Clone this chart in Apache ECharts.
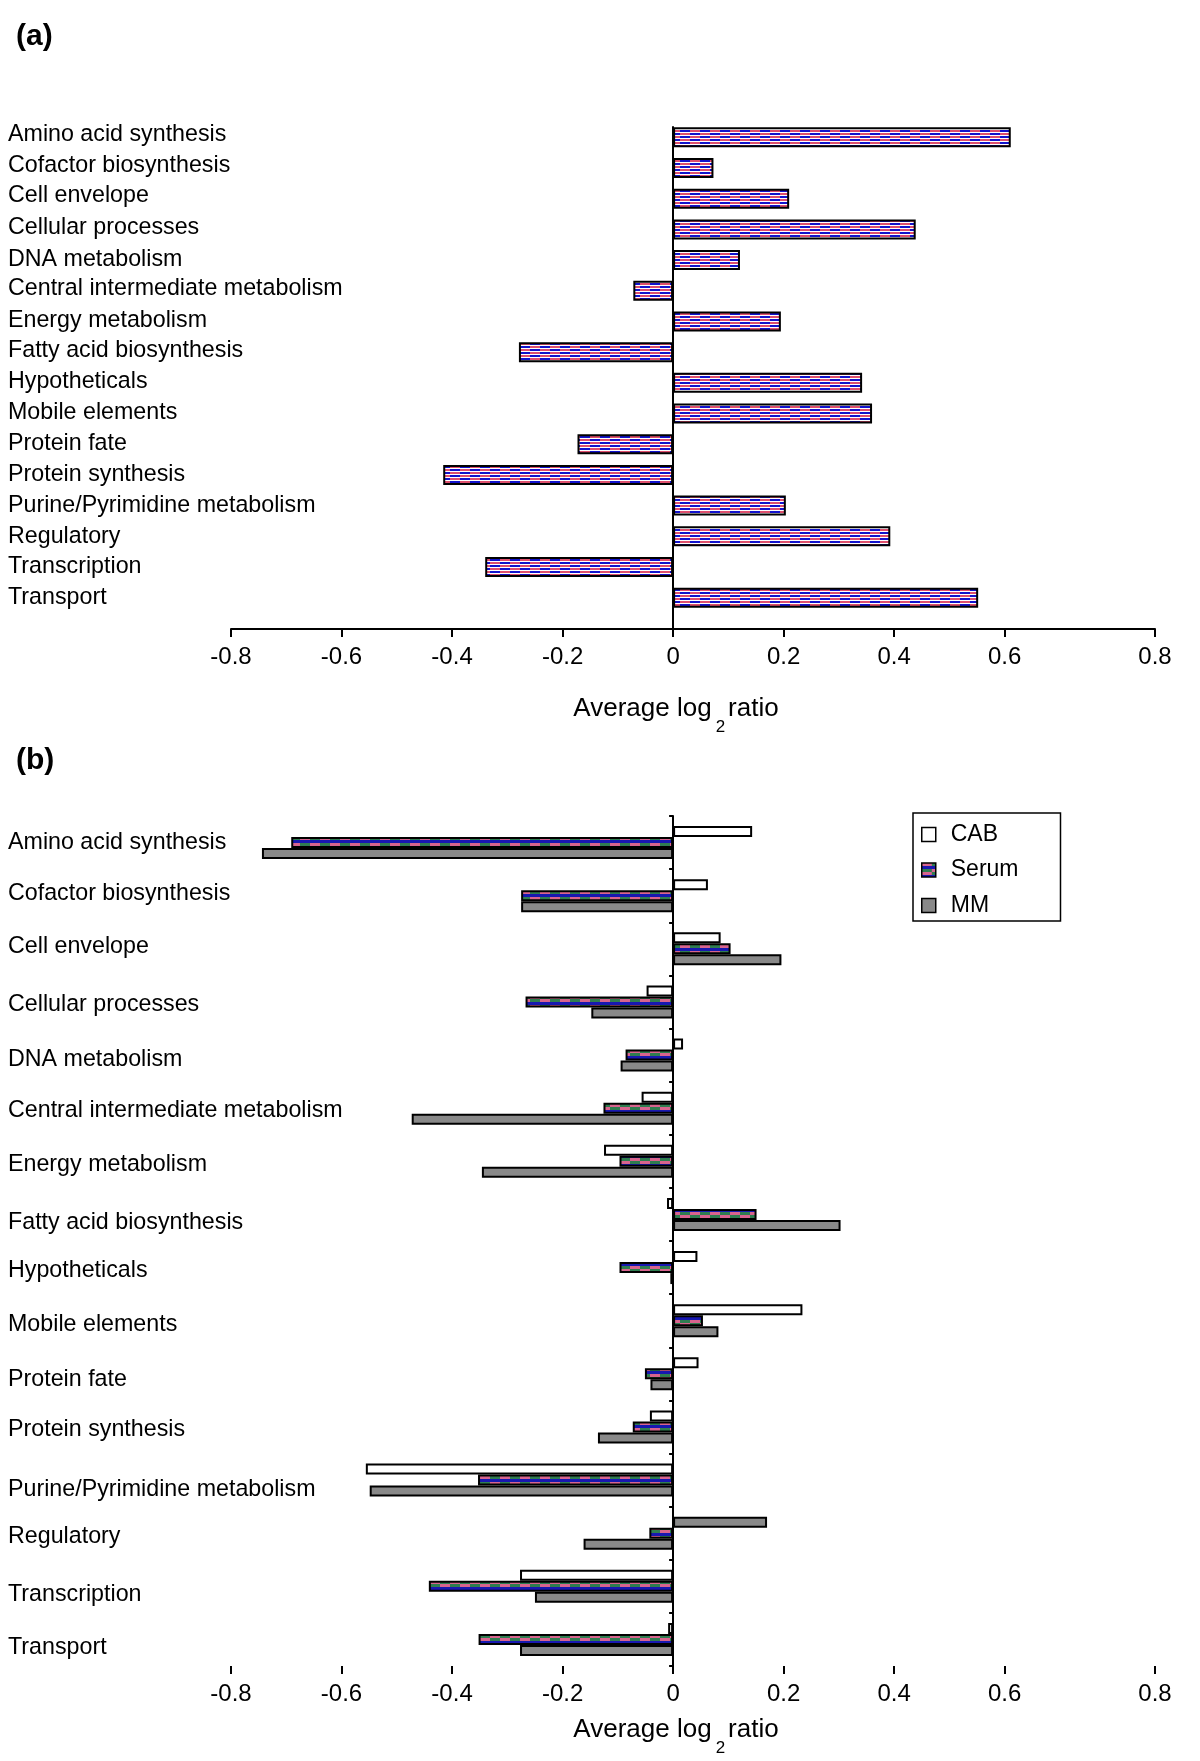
<!DOCTYPE html>
<html>
<head>
<meta charset="utf-8">
<title>Average log2 ratio by functional category</title>
<script src="https://cdn.jsdelivr.net/npm/echarts@6/dist/echarts.min.js"></script>
<style>
  html, body { margin: 0; padding: 0; background: #fff; }
  #chart { width: 1200px; height: 1761px; }
</style>
</head>
<body>
<div id="chart"></div>
<script>
// functional categories (same order in both panels)
const categories = [
  "Amino acid synthesis",
  "Cofactor biosynthesis",
  "Cell envelope",
  "Cellular processes",
  "DNA metabolism",
  "Central intermediate metabolism",
  "Energy metabolism",
  "Fatty acid biosynthesis",
  "Hypotheticals",
  "Mobile elements",
  "Protein fate",
  "Protein synthesis",
  "Purine/Pyrimidine metabolism",
  "Regulatory",
  "Transcription",
  "Transport",
];

// panel (a)
const panelA = [0.611, 0.073, 0.21, 0.439, 0.121, -0.072, 0.195, -0.279, 0.342, 0.36, -0.173, -0.416, 0.204, 0.393, -0.34, 0.552];

// panel (b)
const cab = [0.143, 0.063, 0.086, -0.048, 0.018, -0.057, -0.125, -0.011, 0.044, 0.234, 0.046, -0.042, -0.556, 0.17, -0.277, -0.009];
const serum = [-0.691, -0.275, 0.104, -0.267, -0.086, -0.126, -0.097, 0.151, -0.097, 0.054, -0.051, -0.073, -0.353, -0.043, -0.442, -0.352];
const mm = [-0.744, -0.275, 0.196, -0.148, -0.095, -0.473, -0.346, 0.303, -0.005, 0.082, -0.041, -0.136, -0.549, -0.162, -0.25, -0.277];
// in the original the CAB bar for "Regulatory" is drawn grey
const greyCabIndex = 13;

// x axis ticks (the last tick sits at the end of the axis but reads 0.8)
const tickValues = [-0.8, -0.6, -0.4, -0.2, 0, 0.2, 0.4, 0.6, 0.872];
const tickLabels = ["-0.8", "-0.6", "-0.4", "-0.2", "0", "0.2", "0.4", "0.6", "0.8"];
const xMin = -0.8;
const xMax = 0.872;

// small vertical nudges (px, + = down) of the hand placed category labels
const labelNudgeA = [-3, -2, -3, -2, -1, -2, -1, -2, -1, -1, -1, 0, 0, 0, 0, 0];
const labelNudgeB = [0, -2, -2, 3, 5, 2, 3, 8, 3, 4, 6, 3, 10, 3, 8, 8];

const FONT = "'Liberation Sans', Arial, Helvetica, sans-serif";
const GREY = "#898989";

// fill patterns
function makePatternA() {
  const c = document.createElement("canvas");
  c.width = 20;
  c.height = 6;
  const ctx = c.getContext("2d");
  ctx.fillStyle = "#fff";
  ctx.fillRect(0, 0, 20, 6);
  ctx.fillStyle = "#de4f6d";
  ctx.fillRect(0, 1, 10, 2);
  ctx.fillRect(10, 4, 10, 2);
  ctx.fillStyle = "#1212cc";
  ctx.fillRect(10, 1, 10, 2);
  ctx.fillRect(0, 4, 10, 2);
  return c;
}

function makePatternSerum() {
  const c = document.createElement("canvas");
  c.width = 20;
  c.height = 9;
  const ctx = c.getContext("2d");
  const pink = "#d8648e", green = "#2f7d50", blue = "#1818b0";
  ctx.fillStyle = pink; ctx.fillRect(0, 0, 10, 3);
  ctx.fillStyle = green; ctx.fillRect(10, 0, 10, 3);
  ctx.fillStyle = blue; ctx.fillRect(0, 3, 20, 3);
  ctx.fillStyle = green; ctx.fillRect(0, 6, 10, 3);
  ctx.fillStyle = pink; ctx.fillRect(10, 6, 10, 3);
  return c;
}

const patA = { image: makePatternA(), repeat: "repeat" };
const patSerum = { image: makePatternSerum(), repeat: "repeat" };

function tickFormatter(v) {
  for (let i = 0; i < tickValues.length; i++) {
    if (Math.abs(tickValues[i] - v) < 1e-6) return tickLabels[i];
  }
  return "";
}

function valueAxis(gridIndex, nameGap) {
  return {
    gridIndex: gridIndex,
    type: "value",
    min: xMin,
    max: xMax,
    position: "bottom",
    axisLine: { onZero: false, lineStyle: { color: "#000", width: 2 } },
    axisTick: { show: true, length: 8, customValues: tickValues, lineStyle: { color: "#000", width: 2 } },
    axisLabel: { customValues: tickValues, formatter: tickFormatter, fontSize: 24, color: "#000", margin: 16, fontFamily: FONT },
    splitLine: { show: false },
    name: "{t|Average log}{s|2}{t|ratio}",
    nameLocation: "middle",
    nameGap: nameGap,
    nameTextStyle: {
      padding: [0, 34, 0, 0],
      rich: {
        t: { fontSize: 26, lineHeight: 31, color: "#000", fontFamily: FONT, verticalAlign: "top", padding: [10, 0, 0, 0] },
        s: { fontSize: 17, lineHeight: 17, color: "#000", fontFamily: FONT, verticalAlign: "top", padding: [33, 3, 0, 4] },
      },
    },
  };
}

// one rich style per label, top/bottom padding shifts it up or down
function nudgeRich(nudges) {
  const rich = {};
  nudges.forEach((d, i) => {
    rich["n" + i] = {
      fontSize: 23.25,
      color: "#000",
      fontFamily: FONT,
      padding: d >= 0 ? [2 * d, 0, 0, 0] : [0, 0, -2 * d, 0],
    };
  });
  return rich;
}

function categoryLabels(gridIndex, nudges) {
  return {
    gridIndex: gridIndex,
    type: "category",
    data: categories,
    inverse: true,
    axisLine: { show: false, onZero: false },
    axisTick: { show: false },
    axisLabel: {
      interval: 0,
      margin: 223,
      align: "left",
      fontSize: 23.25,
      color: "#000",
      fontFamily: FONT,
      formatter: (v, i) => "{n" + i + "|" + v + "}",
      rich: nudgeRich(nudges),
    },
  };
}

const chart = echarts.init(document.getElementById("chart"));

const option = {
  backgroundColor: "#fff",
  animation: false,
  textStyle: { fontFamily: FONT, color: "#000" },
  title: [
    { text: "(a)", left: 11, top: 17, textStyle: { fontSize: 30, fontWeight: "bold", color: "#000", fontFamily: FONT } },
    { text: "(b)", left: 11, top: 741, textStyle: { fontSize: 30, fontWeight: "bold", color: "#000", fontFamily: FONT } },
  ],
  legend: {
    data: ["CAB", "Serum", "MM"],
    orient: "vertical",
    left: 913,
    top: 813,
    padding: [10, 42, 4, 8],
    itemGap: 12.5,
    itemWidth: 14,
    itemHeight: 14,
    icon: "rect",
    borderColor: "#000",
    borderWidth: 1.5,
    itemStyle: { borderWidth: 1.5 },
    textStyle: { fontSize: 23, lineHeight: 23, color: "#000", fontFamily: FONT, padding: [0, 0, 0, 10] },
  },
  grid: [
    { left: 231, top: 122, width: 924, height: 491, outerBoundsMode: "none", containLabel: false },
    { left: 231, top: 127, width: 924, height: 502, outerBoundsMode: "none", containLabel: false },
    { left: 231, top: 816, width: 924, height: 850, outerBoundsMode: "none", containLabel: false },
  ],
  xAxis: [
    { gridIndex: 0, type: "value", min: xMin, max: xMax, show: false },
    valueAxis(1, 57),
    valueAxis(2, 40),
  ],
  yAxis: [
    categoryLabels(0, labelNudgeA),
    {
      // zero line of panel (a), runs down to the x axis
      gridIndex: 1,
      type: "value",
      min: 0,
      max: 1,
      axisLine: { show: true, onZero: true, lineStyle: { color: "#000", width: 2 } },
      axisTick: { show: false },
      axisLabel: { show: false },
      splitLine: { show: false },
    },
    categoryLabels(2, labelNudgeB),
    {
      // zero line of panel (b) with ticks between groups
      gridIndex: 2,
      type: "category",
      data: categories,
      inverse: true,
      position: "left",
      axisLine: { show: true, onZero: true, lineStyle: { color: "#000", width: 2 } },
      axisTick: { show: true, length: 4, lineStyle: { color: "#000", width: 2 } },
      axisLabel: { show: false },
    },
  ],
  series: [
    {
      type: "bar",
      xAxisIndex: 0,
      yAxisIndex: 0,
      data: panelA,
      barWidth: 20,
      itemStyle: { color: patA, borderColor: "#000", borderWidth: 2 },
    },
    {
      name: "CAB",
      type: "bar",
      xAxisIndex: 2,
      yAxisIndex: 2,
      data: cab.map((v, i) => (i === greyCabIndex ? { value: v, itemStyle: { color: GREY } } : v)),
      barWidth: 11,
      barGap: "0%",
      itemStyle: { color: "#fff", borderColor: "#000", borderWidth: 2 },
    },
    {
      name: "Serum",
      type: "bar",
      xAxisIndex: 2,
      yAxisIndex: 2,
      data: serum,
      barWidth: 11,
      barGap: "0%",
      itemStyle: { color: patSerum, borderColor: "#000", borderWidth: 2 },
    },
    {
      name: "MM",
      type: "bar",
      xAxisIndex: 2,
      yAxisIndex: 2,
      data: mm,
      barWidth: 11,
      barGap: "0%",
      itemStyle: { color: GREY, borderColor: "#000", borderWidth: 2 },
    },
  ],
};

chart.setOption(option);
</script>
</body>
</html>
